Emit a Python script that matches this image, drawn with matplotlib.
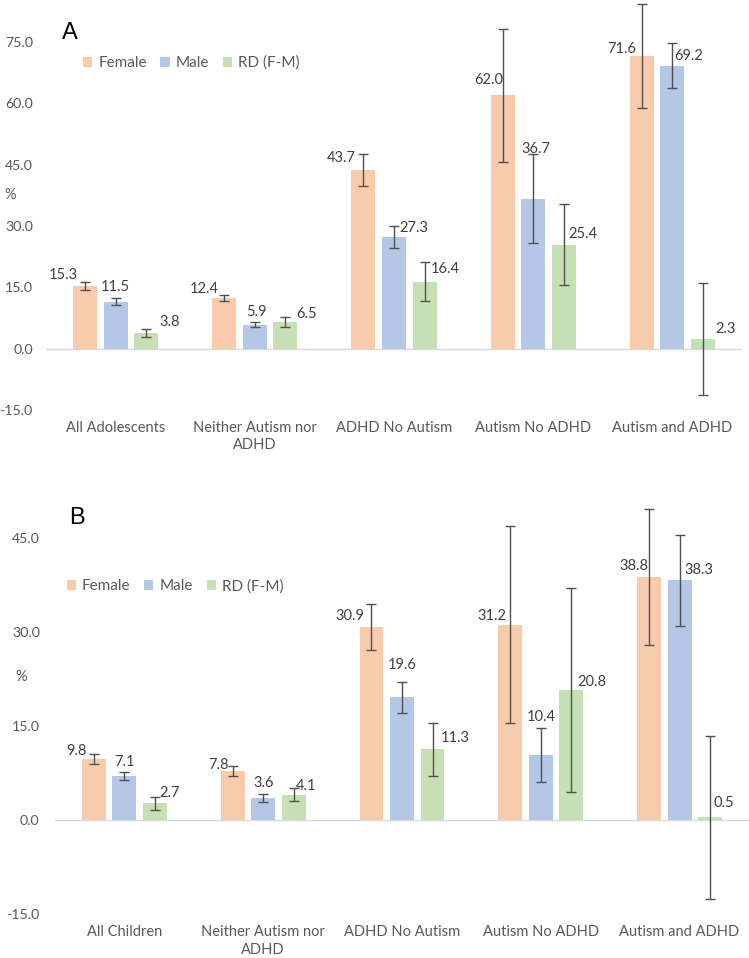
import matplotlib.pyplot as plt
import numpy as np

plt.rcParams['font.family'] = ['Lato', 'DejaVu Sans']

series = ['Female', 'Male', 'RD (F-M)']
colors = ['#F8CBAD', '#B4C7E7', '#C5E0B4']

cats_a = ['All Adolescents', 'Neither Autism nor\nADHD', 'ADHD No Autism',
          'Autism No ADHD', 'Autism and ADHD']
female_a = [15.3, 12.4, 43.7, 62.0, 71.6]
male_a = [11.5, 5.9, 27.3, 36.7, 69.2]
rd_a = [3.8, 6.5, 16.4, 25.4, 2.3]
female_a_err = [0.9, 0.8, 3.8, 16.3, 12.7]
male_a_err = [0.8, 0.7, 2.7, 10.8, 5.5]
rd_a_err = [1.0, 1.15, 4.7, 9.9, 13.75]

cats_b = ['All Children', 'Neither Autism nor\nADHD', 'ADHD No Autism',
          'Autism No ADHD', 'Autism and ADHD']
female_b = [9.8, 7.8, 30.9, 31.2, 38.8]
male_b = [7.1, 3.6, 19.6, 10.4, 38.3]
rd_b = [2.7, 4.1, 11.3, 20.8, 0.5]
female_b_err = [0.8, 0.8, 3.65, 15.75, 10.8]
male_b_err = [0.65, 0.66, 2.45, 4.3, 7.3]
rd_b_err = [1.07, 1.06, 4.3, 16.3, 13.0]

# label offsets (pixels: dx right, dy up) per series
offs_a = [
    [(-22, 11), (-20, 9), (-22, 12), (-14, 15), (-20, 7)],
    [(0, 15), (2, 13), (20, 9), (3, 50), (16, 10)],
    [(23, 11), (21, 8), (21, 13), (19, 11), (23, 10)],
]
offs_b = [
    [(-17, 8), (-14, 6), (-22, 11), (-18, 9), (-15, 11)],
    [(0, 14), (0, 15), (0, 32), (0, 38), (19, 10)],
    [(15, 10), (12, 9), (23, 11), (20, 8), (14, 14)],
]

txt = '#404040'
W, H = 749, 958
fig = plt.figure(figsize=(W / 100, H / 100), dpi=100)


def panel(rect, cats, vals, errs, offs, ylim, ticks, letter, letter_xy, leg_xy, pct_x, pct_y, ypad):
    ax = fig.add_axes(rect)
    x = np.arange(len(cats))
    step = 0.22
    w = 0.172
    for i, (v, e) in enumerate(zip(vals, errs)):
        xs = x + (i - 1) * step
        ax.bar(xs, v, w, color=colors[i], label=series[i], zorder=2)
        ax.errorbar(xs, v, yerr=e, fmt='none', ecolor='#505050', elinewidth=1,
                    capsize=3.5, capthick=1, clip_on=False, zorder=3)
        for j in range(len(cats)):
            dx, dy = offs[i][j]
            ax.annotate(f'{v[j]:.1f}', (xs[j], v[j]), xytext=(dx, dy),
                        textcoords='offset pixels', ha='center', va='center',
                        fontsize=10.5, color=txt, annotation_clip=False)
    ax.axhline(0, color='#D9D9D9', lw=1, zorder=1)
    ax.set_xlim(-0.5, len(cats) - 0.5)
    ax.set_ylim(*ylim)
    ax.set_yticks(ticks)
    ax.set_yticklabels([f'{t:.1f}' for t in ticks])
    ax.set_xticks(x)
    ax.set_xticklabels(cats, linespacing=1.3)
    for s in ax.spines.values():
        s.set_visible(False)
    ax.tick_params(length=0, labelcolor='#595959')
    ax.tick_params(axis='x', pad=8, labelsize=10.5)
    ax.tick_params(axis='y', pad=ypad, labelsize=10.2)
    ax.legend(loc='center left', bbox_to_anchor=leg_xy, ncol=3, frameon=False,
              fontsize=11, handlelength=0.6, handleheight=0.6,
              handletextpad=0.4, columnspacing=0.9, borderpad=0, borderaxespad=0,
              labelcolor='#595959')
    fig.text(letter_xy[0] / W, 1 - letter_xy[1] / H, letter, fontsize=17,
             family='Liberation Sans', ha='center', va='center', color='black')
    fig.text(pct_x / W, 1 - pct_y / H, '%', fontsize=10.5, color='#595959',
             ha='center', va='center')
    return ax


panel([46 / W, 1 - 410 / H, 696 / W, 368 / H], cats_a,
      [female_a, male_a, rd_a], [female_a_err, male_a_err, rd_a_err], offs_a,
      (-15, 75), [-15, 0, 15, 30, 45, 60, 75], 'A', (70, 33), (0.053, 0.943), 10, 195, 9.5)

panel([55 / W, 1 - 914.3 / H, 694 / W, 376 / H], cats_b,
      [female_b, male_b, rd_b], [female_b_err, male_b_err, rd_b_err], offs_b,
      (-15, 45), [-15, 0, 15, 30, 45], 'B', (77, 518), (0.017, 0.873), 21, 677, 11)

fig.savefig('out.png', dpi=100)
